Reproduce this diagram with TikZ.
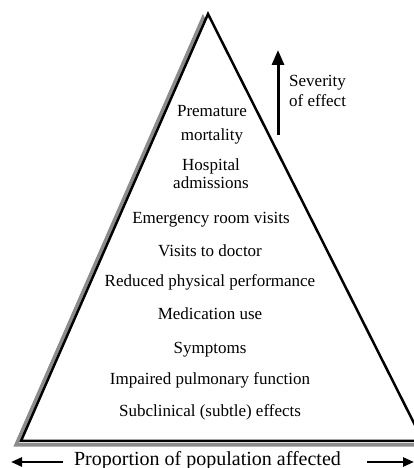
\documentclass[tikz,border=0pt]{standalone}
\usepackage{fontspec}
\setmainfont{Liberation Serif}
\usetikzlibrary{arrows.meta}
\tikzset{
  lbl/.style={anchor=base, inner sep=0pt, font=\fontsize{17}{20}\selectfont},
  lbll/.style={anchor=base west, inner sep=0pt, font=\fontsize{17}{20}\selectfont},
  pyr/.style={draw=black, line width=2.5pt, line join=miter, fill=white},
  shadow/.style={draw=black!45, line width=3.5pt, line join=miter},
  bigarrow/.style={line width=3pt, -{Triangle[length=15pt,width=12pt]}},
  sidearrow/.style={line width=2.5pt, -{Triangle[length=11pt,width=9pt]}}
}
\begin{document}
\begin{tikzpicture}[x=1pt,y=1pt]
\useasboundingbox (0,0) rectangle (414,468);
\clip (0,0) rectangle (414,468);
% pyramid corners
\coordinate (apex) at (208,454);
\coordinate (bl) at (21,27);
\coordinate (br) at (423,27);
% shadow
\draw[shadow] ([shift={(-5,-4)}]apex) -- ([shift={(-5,-4)}]bl) -- ([shift={(-5,-4)}]br) -- cycle;
% pyramid
\draw[pyr] (apex) -- (bl) -- (br) -- cycle;
% labels
\node[lbl] (pm1) at (212,351) {Premature};
\node[lbl] (pm2) at (212,327) {mortality};
\node[lbl] (ha1) at (211,297) {Hospital};
\node[lbl] (ha2) at (211,279) {admissions};
\node[lbl] (er) at (211,244) {Emergency room visits};
\node[lbl] (vd) at (210,211) {Visits to doctor};
\node[lbl] (rp) at (210,181) {Reduced physical performance};
\node[lbl] (mu) at (210,148) {Medication use};
\node[lbl] (sy) at (210,114) {Symptoms};
\node[lbl] (ip) at (210,83) {Impaired pulmonary function};
\node[lbl] (sc) at (210,51) {Subclinical (subtle) effects};
% severity
\coordinate (sevlow) at (278,333);
\coordinate (sevhigh) at (278,418);
\draw[bigarrow] (sevlow) -- (sevhigh);
\node[lbll] (sev1) at (289,381) {Severity};
\node[lbll] (sev2) at (289,361) {of effect};
% proportion
\node[anchor=base, inner sep=0pt, font=\fontsize{20}{24}\selectfont] (prop) at (207.5,2) {Proportion of population affected};
\coordinate (la) at (63,6);
\coordinate (lt) at (11,6);
\coordinate (ra) at (367,6);
\coordinate (rt) at (414,6);
\draw[sidearrow] (la) -- (lt);
\draw[sidearrow] (ra) -- (rt);
\end{tikzpicture}
\end{document}
